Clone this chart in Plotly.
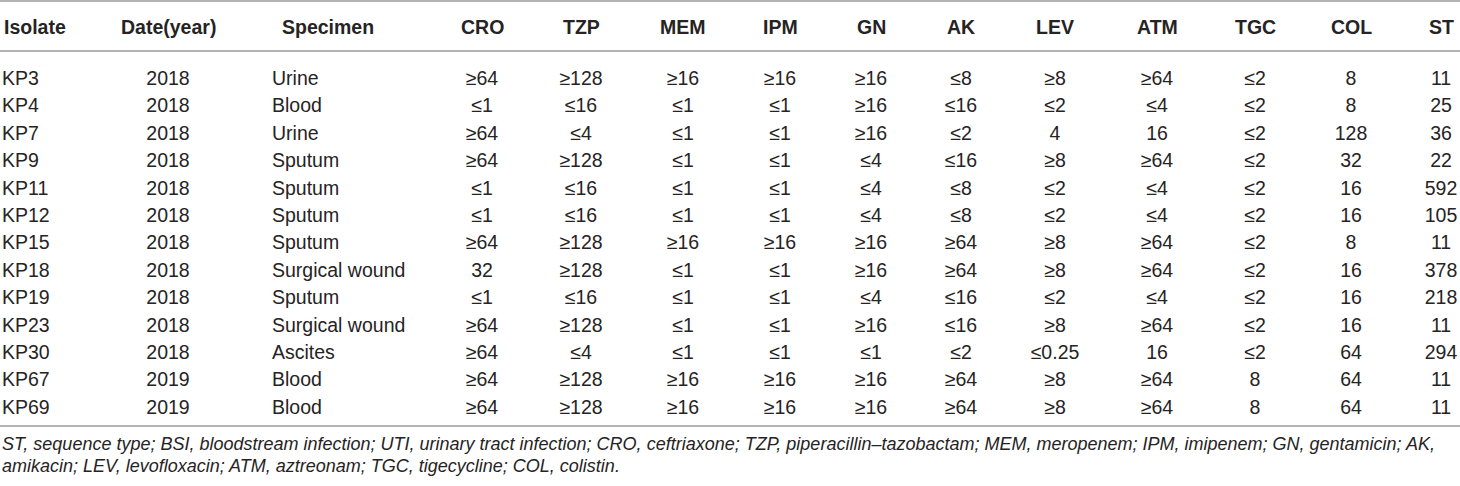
import plotly.graph_objects as go

# table contents
isolates = ["KP3", "KP4", "KP7", "KP9", "KP11", "KP12", "KP15", "KP18", "KP19", "KP23", "KP30", "KP67", "KP69"]
years = ["2018", "2018", "2018", "2018", "2018", "2018", "2018", "2018", "2018", "2018", "2018", "2019", "2019"]
specimens = ["Urine", "Blood", "Urine", "Sputum", "Sputum", "Sputum", "Sputum", "Surgical wound",
             "Sputum", "Surgical wound", "Ascites", "Blood", "Blood"]
cro = ["≥64", "≤1", "≥64", "≥64", "≤1", "≤1", "≥64", "32", "≤1", "≥64", "≥64", "≥64", "≥64"]
tzp = ["≥128", "≤16", "≤4", "≥128", "≤16", "≤16", "≥128", "≥128", "≤16", "≥128", "≤4", "≥128", "≥128"]
mem = ["≥16", "≤1", "≤1", "≤1", "≤1", "≤1", "≥16", "≤1", "≤1", "≤1", "≤1", "≥16", "≥16"]
ipm = ["≥16", "≤1", "≤1", "≤1", "≤1", "≤1", "≥16", "≤1", "≤1", "≤1", "≤1", "≥16", "≥16"]
gn = ["≥16", "≥16", "≥16", "≤4", "≤4", "≤4", "≥16", "≥16", "≤4", "≥16", "≤1", "≥16", "≥16"]
ak = ["≤8", "≤16", "≤2", "≤16", "≤8", "≤8", "≥64", "≥64", "≤16", "≤16", "≤2", "≥64", "≥64"]
lev = ["≥8", "≤2", "4", "≥8", "≤2", "≤2", "≥8", "≥8", "≤2", "≥8", "≤0.25", "≥8", "≥8"]
atm = ["≥64", "≤4", "16", "≥64", "≤4", "≤4", "≥64", "≥64", "≤4", "≥64", "16", "≥64", "≥64"]
tgc = ["≤2", "≤2", "≤2", "≤2", "≤2", "≤2", "≤2", "≤2", "≤2", "≤2", "≤2", "8", "8"]
col = ["8", "8", "128", "32", "16", "16", "8", "16", "16", "16", "64", "64", "64"]
st = ["11", "25", "36", "22", "592", "105", "11", "378", "218", "11", "294", "11", "11"]

headers = ["Isolate", "Date(year)", "Specimen", "CRO", "TZP", "MEM", "IPM", "GN",
           "AK", "LEV", "ATM", "TGC", "COL", "ST"]
values = [isolates, years, specimens, cro, tzp, mem, ipm, gn, ak, lev, atm, tgc, col, st]

footnote = ["ST, sequence type; BSI, bloodstream infection; UTI, urinary tract infection; CRO, ceftriaxone; "
            "TZP, piperacillin–tazobactam; MEM, meropenem; IPM, imipenem; GN, gentamicin; AK,",
            "amikacin; LEV, levofloxacin; ATM, aztreonam; TGC, tigecycline; COL, colistin."]

# layout (pixels)
W, H = 1460, 486
ROW0, ROW_STEP = 80, 27.42
HEAD_Y = 27
RULES_Y = [1, 51, 426]
FOOT_Y = [444, 466]
# column anchor x and alignment; Specimen header is centred over left-aligned cells
COL_X = [(2, "left"), (168, "center"), (272, "left"), (482, "center"), (581, "center"),
         (683, "center"), (780, "center"), (871, "center"), (961, "center"), (1055, "center"),
         (1157, "center"), (1255, "center"), (1351, "center"), (1441, "center")]
HEAD_X = {"Specimen": 328}

TXT = "#262324"
FONT = "Liberation Sans, Arial, sans-serif"


def py(y):
  return 1 - y / H


fig = go.Figure()

for (x, align), name, vals in zip(COL_X, headers, values):
  fig.add_trace(go.Scatter(
    x=[x] * len(vals), y=isolates, text=vals, mode="text",
    textposition="middle right" if align == "left" else "middle center",
    textfont=dict(family=FONT, size=19.5, color=TXT),
    hoverinfo="skip", showlegend=False))
  fig.add_annotation(
    x=HEAD_X.get(name, x), y=py(HEAD_Y), xref="x", yref="paper",
    text="<b>" + name + "</b>", showarrow=False,
    xanchor="left" if align == "left" and name not in HEAD_X else "center", yanchor="middle",
    font=dict(family=FONT, size=19.5, color=TXT))

for y in RULES_Y:
  fig.add_shape(type="line", xref="paper", yref="paper", x0=0, x1=1, y0=py(y), y1=py(y),
                line=dict(color="#9a9a9a", width=1.6))

for y, line in zip(FOOT_Y, footnote):
  fig.add_annotation(x=0, y=py(y), xref="paper", yref="paper", text="<i>" + line + "</i>",
                     showarrow=False, xanchor="left", yanchor="middle", align="left",
                     font=dict(family=FONT, size=18, color=TXT))

fig.update_layout(
  width=W, height=H, margin=dict(l=0, r=0, t=0, b=0),
  paper_bgcolor="white", plot_bgcolor="white",
  xaxis=dict(range=[0, W], visible=False, fixedrange=True),
  yaxis=dict(type="category", categoryarray=isolates, visible=False, fixedrange=True,
             range=[(H - ROW0) / ROW_STEP, -ROW0 / ROW_STEP]),
)

# drop the default page margin so the figure sits at the window's corner
fig.write_html("out.html", config={"displayModeBar": False},
               post_script="document.body.style.margin = '0';")
